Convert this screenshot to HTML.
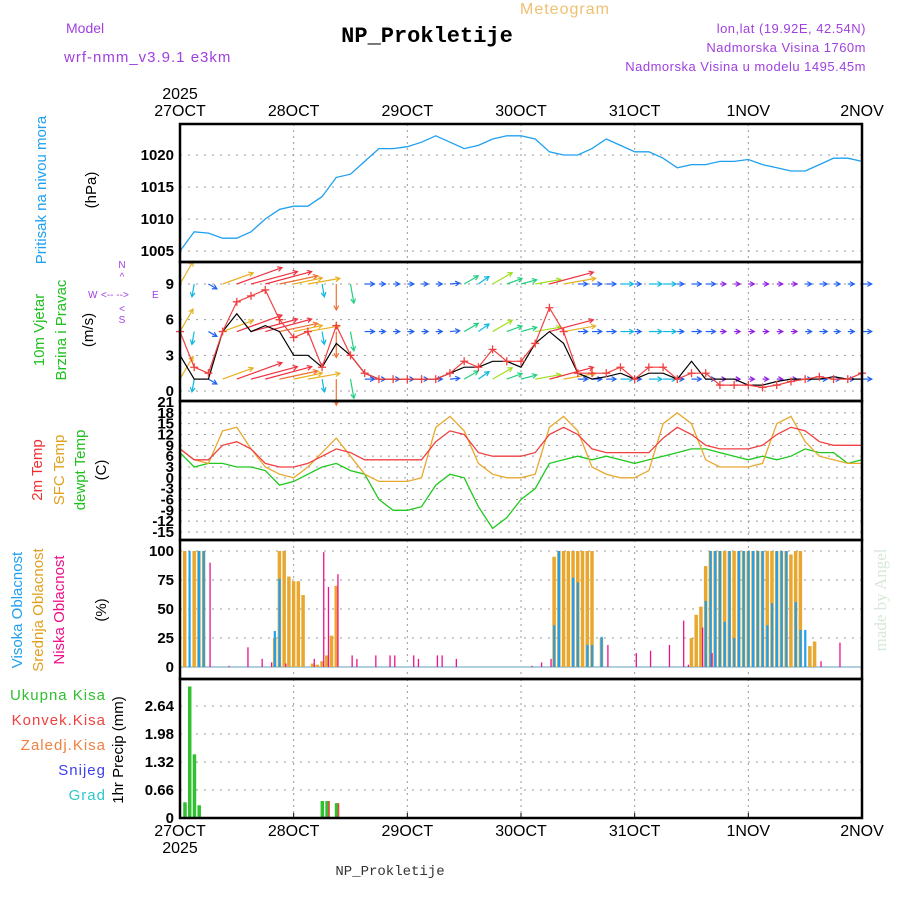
<!DOCTYPE html>
<html><head><meta charset="utf-8">
<style>
body{margin:0;background:#fff;}
svg{display:block;font-family:"Liberation Sans",sans-serif;}
</style></head>
<body>
<svg id="c" width="900" height="900" viewBox="0 0 900 900">
<text x="66" y="33" fill="#a040e0" font-size="14">Model</text>
<text x="64" y="62" fill="#a040e0" font-size="15" letter-spacing="1">wrf-nmm_v3.9.1 e3km</text>
<text x="520" y="14" fill="#f0c070" font-size="16" letter-spacing="1">Meteogram</text>
<text x="427" y="42" fill="#000" font-size="22" font-weight="bold" font-family="Liberation Mono,monospace" text-anchor="middle">NP_Prokletije</text>
<text x="866" y="33" fill="#a040e0" font-size="13" text-anchor="end" letter-spacing="0.5">lon,lat (19.92E, 42.54N)</text>
<text x="866" y="52" fill="#a040e0" font-size="13" text-anchor="end" letter-spacing="0.5">Nadmorska Visina 1760m</text>
<text x="866" y="71" fill="#a040e0" font-size="13" text-anchor="end" letter-spacing="0.5">Nadmorska Visina u modelu 1495.45m</text>
<text x="390" y="875" fill="#333" font-size="14" font-family="Liberation Mono,monospace" text-anchor="middle">NP_Prokletije</text>
<text transform="translate(886,600) rotate(-90)" fill="#d8e8d8" font-size="17" font-family="Liberation Serif,serif" text-anchor="middle">made by Angel</text>

<text transform="translate(46,190) rotate(-90)" fill="#20a0f0" font-size="15" text-anchor="middle">Pritisak na nivou mora</text>
<text transform="translate(96,190) rotate(-90)" fill="#000" font-size="15" text-anchor="middle">(hPa)</text>
<text transform="translate(44,330) rotate(-90)" fill="#20c020" font-size="15" text-anchor="middle">10m Vjetar</text>
<text transform="translate(66,330) rotate(-90)" fill="#20c020" font-size="15" text-anchor="middle">Brzina i Pravac</text>
<text transform="translate(93,330) rotate(-90)" fill="#000" font-size="15" text-anchor="middle">(m/s)</text>
<g fill="#a040e0" font-size="10">
<text x="122" y="268" text-anchor="middle">N</text><text x="122" y="280" text-anchor="middle">^</text>
<text x="88" y="298">W</text><text x="101" y="298">&lt;-- --&gt;</text><text x="152" y="298">E</text>
<text x="122" y="312" text-anchor="middle">&lt;</text><text x="122" y="323" text-anchor="middle">S</text>
</g>
<text transform="translate(42,470) rotate(-90)" fill="#f03030" font-size="15" text-anchor="middle">2m Temp</text>
<text transform="translate(64,470) rotate(-90)" fill="#e0a020" font-size="15" text-anchor="middle">SFC Temp</text>
<text transform="translate(85,470) rotate(-90)" fill="#20c020" font-size="15" text-anchor="middle">dewpt Temp</text>
<text transform="translate(106,470) rotate(-90)" fill="#000" font-size="15" text-anchor="middle">(C)</text>
<text transform="translate(22,610) rotate(-90)" fill="#20a0f0" font-size="15" text-anchor="middle">Visoka Oblacnost</text>
<text transform="translate(43,610) rotate(-90)" fill="#e0a020" font-size="15" text-anchor="middle">Srednja Oblacnost</text>
<text transform="translate(64,610) rotate(-90)" fill="#f0108a" font-size="15" text-anchor="middle">Niska Oblacnost</text>
<text transform="translate(106,610) rotate(-90)" fill="#000" font-size="15" text-anchor="middle">(%)</text>
<g font-size="15" text-anchor="end" letter-spacing="1">
<text x="106" y="700" fill="#30c030">Ukupna  Kisa</text>
<text x="106" y="725" fill="#f04040">Konvek.Kisa</text>
<text x="106" y="750" fill="#f08040">Zaledj.Kisa</text>
<text x="106" y="775" fill="#4040f0">Snijeg</text>
<text x="106" y="800" fill="#30c8c8">Grad</text>
</g>
<text transform="translate(123,750) rotate(-90)" fill="#000" font-size="15" text-anchor="middle">1hr Precip (mm)</text>
<g id="plots"></g>
</svg>
<script>
// ---- data (3-hourly, 27OCT 00 .. 2NOV 00) ----
const dayLabels=["27OCT","28OCT","29OCT","30OCT","31OCT","1NOV","2NOV"];
const pressure=[1005,1008,1007.8,1007,1007,1008,1010,1011.5,1012,1012,1013.5,1016.5,1017,1019,1021,1021,1021.3,1022,1023,1022,1021,1021.5,1022.5,1023,1023,1022.5,1020.5,1020,1020,1021,1022.5,1021.5,1020.5,1020.5,1019.5,1018,1018.5,1018.5,1019,1019,1019.3,1018.5,1018,1017.5,1017.5,1018.5,1019.5,1019.5,1019];
const windSpeed=[5,2,1.5,5,7.5,8,8.5,6,4.5,5,2,5.5,3,1.5,1,1,1,1,1,1.5,2.5,2,3.5,2.5,2.5,4,7,5,1.5,1.5,1.5,2,1,2,2,1,1.5,1.5,0.5,0.5,0.5,0.3,0.5,0.8,1,1.2,1,1,1.5];
const windGust=[3,1,1,5,6.5,5,5.5,5,3,3,2,4,3,1.5,1,1,1,1,1,1.5,2,2,2.5,2.5,2,4,5,4,1.5,1,1.2,1.5,1,1.5,1.5,1,2.5,1,1,1,0.5,0.5,0.8,1,1,1,1.2,1,1];
const windDir=[60,-100,-30,20,20,15,15,12,12,10,-80,-90,-80,0,0,0,0,0,0,5,30,35,30,20,15,10,15,10,0,0,0,0,0,0,0,0,0,0,0,0,0,0,0,0,0,0,0,0,0];
const temp2m=[8,5,5,9,10,8,4,3,3,4,6,8,7,5,5,5,5,5,10,13,12,7,6,6,6,7,12,14,12,8,7,7,7,7,11,14,12,9,8,8,8,9,12,14,13,10,9,9,9];
const tempSfc=[8,5,4,13,14,8,3,1,0,3,7,11,6,1,-1,-1,-1,0,14,17,13,4,1,0,0,1,14,17,13,3,1,0,0,2,15,18,15,5,3,3,3,4,15,17,10,6,5,4,4];
const dewpt=[7,3,4,4,3,3,2,-2,-1,1,3,4,2,1,-6,-9,-9,-8,-2,1,0,-8,-14,-11,-6,-3,4,5,6,5,6,5,4,5,6,7,8,8,7,6,5,6,5,6,8,7,7,4,5];
// cloud cover: [hour, percent]
const cloudHigh=[[2,100],[4,100],[5,100],[20,31],[21,76],[79,36],[80,100],[83,77],[84,73],[86,19],[87,19],[89,26],[111,57],[112,100],[113,100],[114,100],[115,39],[116,100],[117,25],[118,100],[119,100],[120,100],[121,100],[122,100],[123,100],[124,36],[125,55],[126,100],[127,100],[128,100],[130,56],[131,32],[132,32]];
const cloudMid=[[1,100],[3,100],[4,100],[5,100],[20,25],[21,100],[22,100],[23,78],[24,74],[25,74],[26,62],[28,3],[29,2],[30,5],[31,10],[32,27],[33,70],[79,95],[80,100],[81,100],[82,100],[83,100],[84,100],[85,100],[86,100],[87,100],[89,25],[108,25],[109,45],[110,52],[111,87],[112,100],[113,100],[114,100],[115,100],[116,100],[117,100],[118,100],[119,100],[120,100],[121,100],[122,100],[123,100],[124,100],[125,100],[126,100],[127,100],[128,100],[129,97],[130,100],[131,100],[133,18],[134,22]];
const cloudLow=[[6,90],[10,1],[14,17],[17,7],[19,4],[22,3],[28,7],[30,99],[31,69],[33,80],[36,10],[37,7],[41,10],[44,10],[45,10],[49,10],[50,7],[54,10],[55,10],[58,7],[74,1],[76,4],[78,7],[90,19],[96,12],[99,14],[103,19],[106,40],[107,2],[110,34],[112,12],[135,5],[139,21]];
// precipitation: [hour, mm]
const precipTotal=[[1,0.37],[2,3.1],[3,1.5],[4,0.3],[30,0.4],[31,0.4],[33,0.35]];
const precipConv=[[30,0.03],[31,0.4],[33,0.35]];
const pTicks=[1005,1010,1015,1020];
const wTicks=[0,3,6,9];
const tTicks=[21,18,15,12,9,6,3,0,-3,-6,-9,-12,-15];
const cTicks=[0,25,50,75,100];
const prTicks=[0,0.66,1.32,1.98,2.64];

const NS="http://www.w3.org/2000/svg";
const G=document.getElementById('plots');
function mk(tag,attrs,parent){const e=document.createElementNS(NS,tag);for(const k in attrs)e.setAttribute(k,attrs[k]);(parent||G).appendChild(e);return e;}
const X0=180,X1=862;
const xh=h=>X0+(X1-X0)*h/144;
const x3=i=>xh(i*3);
function lin(d0,d1,r0,r1){return v=>r0+(v-d0)*(r1-r0)/(d1-d0);}
const yP=lin(1005,1020,251,155);
const yW=lin(0,9,391,284);
const yT=lin(21,-15,402,532);
const yC=lin(0,100,667,551);
const yR=lin(0,2.64,818,706);
const panels=[[124,262],[262,401],[401,540],[540,679],[679,818]];

panels.forEach((p)=>{
  for(let d=1;d<6;d++){const l=mk('line',{x1:xh(d*24),x2:xh(d*24),y1:p[0],y2:p[1],stroke:'#999','stroke-dasharray':'2,4'});
  
  }
});
function hgrid(ticks,fy,fmt,name){ticks.forEach(t=>{
  const y=fy(t);
  const l=mk('line',{x1:X0,x2:X1,y1:y,y2:y,stroke:'#999','stroke-dasharray':'2,6'});
  
  
  const tx=mk('text',{x:X0-6,y:y+5,'text-anchor':'end','font-size':'15','font-weight':'bold',fill:'#000'});
  tx.textContent=fmt(t);
  
  
});}
hgrid(pTicks,yP,t=>t,'pressure');
hgrid(wTicks,yW,t=>t,'wind');
hgrid(tTicks,yT,t=>t,'temp');
hgrid(cTicks,yC,t=>t,'cloud');
hgrid(prTicks,yR,t=>t===0?'0':t.toFixed(2),'precip');

function line(arr,fy,color,name,w){
  const d=arr.map((v,i)=>(i?'L':'M')+x3(i).toFixed(1)+','+fy(v).toFixed(1)).join('');
  const p=mk('path',{d:d,fill:'none',stroke:color,'stroke-width':w||1.3});
  
  
  return p;
}
line(pressure,yP,'#1ea0f0','pressure-line');
function spdColor(s){if(s<1)return '#9020e0';if(s<1.8)return '#2060f0';if(s<2.5)return '#10b8e0';if(s<3.5)return '#20d080';if(s<4.5)return '#a0e020';if(s<5.5)return '#e8b020';if(s<7)return '#f07030';return '#f03040';}
[9,5,1].forEach(row=>{
  windDir.forEach((dir,i)=>{
    const s=windSpeed[i];const a=dir*Math.PI/180;
    let L=Math.min(48,Math.max(6,s*6.5));
    if(Math.abs(Math.sin(a))>0.7)L=Math.min(L,26);
    const x=x3(i),y=yW(row);const ex=x+L*Math.cos(a),ey=y-L*Math.sin(a);
    const c=spdColor(s);
    const g=mk('g',{stroke:c,'stroke-width':1.2,fill:'none'});
    
    
    mk('line',{x1:x,y1:y,x2:ex,y2:ey},g);
    const ha=0.5,hl=5;
    mk('path',{d:`M${ex-hl*Math.cos(a-ha)},${ey+hl*Math.sin(a-ha)}L${ex},${ey}L${ex-hl*Math.cos(a+ha)},${ey+hl*Math.sin(a+ha)}`},g);
  });
});
line(windGust,yW,'#000','wind-black-line',1.2);
line(windSpeed,yW,'#f04040','wind-speed-line',1.2);
windSpeed.forEach((v,i)=>{const x=x3(i),y=yW(v);
  const p=mk('path',{d:`M${x-4},${y}H${x+4}M${x},${y-4}V${y+4}`,stroke:'#f04040','stroke-width':1.3});
  
  });
line(dewpt,yT,'#20c820','dewpoint-line');
line(tempSfc,yT,'#e8a830','sfc-temp-line');
line(temp2m,yT,'#f04040','temp-2m-line');
function bars(arr,fy,color,off,w,name){arr.forEach(([h,v])=>{const x=xh(h)+off,y=fy(v);
  const r=mk('rect',{x:x,y:y,width:w,height:fy(0)-y,fill:color});
  
  });}
mk('line',{x1:X0,x2:X1,y1:yC(0),y2:yC(0),stroke:'#b0d0e0','stroke-width':2});
bars(cloudMid,yC,'#e8a830',-1.8,3.5,'mid-cloud-bar');
bars(cloudHigh,yC,'#1ea0f0',-1,2.2,'high-cloud-bar');
bars(cloudLow,yC,'#f0108a',1,1.3,'low-cloud-bar');
bars(precipTotal,yR,'#30c030',-1.5,3.5,'precip-total-bar');
bars(precipConv,yR,'#f04040',1.5,1.5,'precip-convective-bar');
panels.forEach(p=>{const r=mk('rect',{x:X0,y:p[0],width:X1-X0,height:p[1]-p[0],fill:'none',stroke:'#000','stroke-width':2.5});

});
dayLabels.forEach((d,i)=>{const x=xh(i*24);
  [116,836].forEach(y=>{const t=mk('text',{x:x,y:y,'text-anchor':'middle','font-size':'16',fill:'#000'});t.textContent=d;
  
  });
  const tk=mk('line',{x1:x,x2:x,y1:813,y2:818,stroke:'#000'});
  
  
});
[[180,99],[180,853]].forEach(([x,y])=>{const t=mk('text',{x:x,y:y,'text-anchor':'middle','font-size':'16',fill:'#000'});t.textContent='2025';

});
</script>
</body></html>
